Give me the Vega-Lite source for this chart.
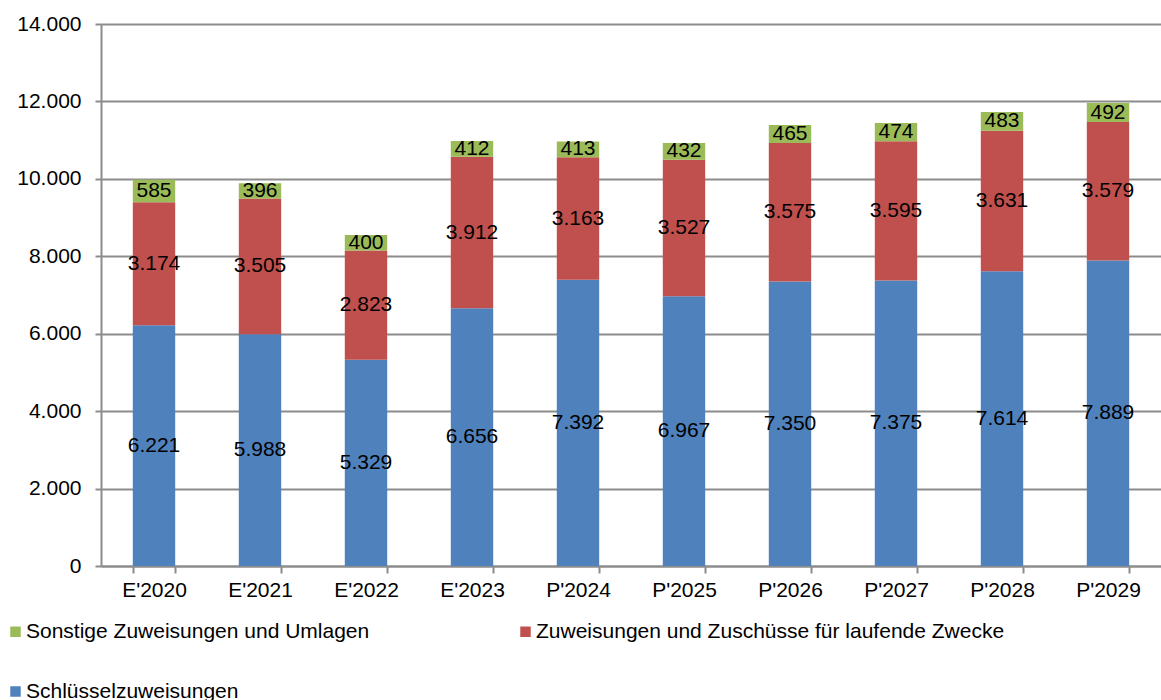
{
  "$schema": "https://vega.github.io/schema/vega-lite/v6.json",
  "autosize": "none",
  "width": 1060,
  "height": 542,
  "padding": {"left": 101, "top": 24, "right": 0, "bottom": 134},
  "background": "white",
  "config": {
    "locale": {"number": {"decimal": ",", "thousands": ".", "grouping": [3], "currency": ["", " €"]}},
    "font": "Liberation Sans",
    "view": {"stroke": null},
    "axis": {"labelFont": "Liberation Sans", "labelFontSize": 21, "labelColor": "#000000", "domainColor": "#8c8c8c", "domainWidth": 2, "tickColor": "#8c8c8c", "tickWidth": 2, "gridColor": "#8c8c8c", "gridWidth": 2, "title": null}
  },
  "data": {
    "values": [
      {"jahr": "E'2020", "kat": "Schlüsselzuweisungen", "k": 1, "v": 6221},
      {"jahr": "E'2020", "kat": "Zuweisungen und Zuschüsse für laufende Zwecke", "k": 2, "v": 3174},
      {"jahr": "E'2020", "kat": "Sonstige Zuweisungen und Umlagen", "k": 3, "v": 585},
      {"jahr": "E'2021", "kat": "Schlüsselzuweisungen", "k": 1, "v": 5988},
      {"jahr": "E'2021", "kat": "Zuweisungen und Zuschüsse für laufende Zwecke", "k": 2, "v": 3505},
      {"jahr": "E'2021", "kat": "Sonstige Zuweisungen und Umlagen", "k": 3, "v": 396},
      {"jahr": "E'2022", "kat": "Schlüsselzuweisungen", "k": 1, "v": 5329},
      {"jahr": "E'2022", "kat": "Zuweisungen und Zuschüsse für laufende Zwecke", "k": 2, "v": 2823},
      {"jahr": "E'2022", "kat": "Sonstige Zuweisungen und Umlagen", "k": 3, "v": 400},
      {"jahr": "E'2023", "kat": "Schlüsselzuweisungen", "k": 1, "v": 6656},
      {"jahr": "E'2023", "kat": "Zuweisungen und Zuschüsse für laufende Zwecke", "k": 2, "v": 3912},
      {"jahr": "E'2023", "kat": "Sonstige Zuweisungen und Umlagen", "k": 3, "v": 412},
      {"jahr": "P'2024", "kat": "Schlüsselzuweisungen", "k": 1, "v": 7392},
      {"jahr": "P'2024", "kat": "Zuweisungen und Zuschüsse für laufende Zwecke", "k": 2, "v": 3163},
      {"jahr": "P'2024", "kat": "Sonstige Zuweisungen und Umlagen", "k": 3, "v": 413},
      {"jahr": "P'2025", "kat": "Schlüsselzuweisungen", "k": 1, "v": 6967},
      {"jahr": "P'2025", "kat": "Zuweisungen und Zuschüsse für laufende Zwecke", "k": 2, "v": 3527},
      {"jahr": "P'2025", "kat": "Sonstige Zuweisungen und Umlagen", "k": 3, "v": 432},
      {"jahr": "P'2026", "kat": "Schlüsselzuweisungen", "k": 1, "v": 7350},
      {"jahr": "P'2026", "kat": "Zuweisungen und Zuschüsse für laufende Zwecke", "k": 2, "v": 3575},
      {"jahr": "P'2026", "kat": "Sonstige Zuweisungen und Umlagen", "k": 3, "v": 465},
      {"jahr": "P'2027", "kat": "Schlüsselzuweisungen", "k": 1, "v": 7375},
      {"jahr": "P'2027", "kat": "Zuweisungen und Zuschüsse für laufende Zwecke", "k": 2, "v": 3595},
      {"jahr": "P'2027", "kat": "Sonstige Zuweisungen und Umlagen", "k": 3, "v": 474},
      {"jahr": "P'2028", "kat": "Schlüsselzuweisungen", "k": 1, "v": 7614},
      {"jahr": "P'2028", "kat": "Zuweisungen und Zuschüsse für laufende Zwecke", "k": 2, "v": 3631},
      {"jahr": "P'2028", "kat": "Sonstige Zuweisungen und Umlagen", "k": 3, "v": 483},
      {"jahr": "P'2029", "kat": "Schlüsselzuweisungen", "k": 1, "v": 7889},
      {"jahr": "P'2029", "kat": "Zuweisungen und Zuschüsse für laufende Zwecke", "k": 2, "v": 3579},
      {"jahr": "P'2029", "kat": "Sonstige Zuweisungen und Umlagen", "k": 3, "v": 492}
    ]
  },
  "encoding": {
    "x": {
      "field": "jahr", "type": "nominal", "sort": null,
      "scale": {"paddingInner": 0.6, "paddingOuter": 0.3},
      "axis": {"labelAngle": 0, "tickBand": "extent", "tickSize": 7, "labelPadding": 6, "grid": false}
    }
  },
  "layer": [
    {
      "mark": {"type": "bar"},
      "encoding": {
        "y": {
          "field": "v", "type": "quantitative", "stack": "zero",
          "scale": {"domain": [0, 14000], "nice": false},
          "axis": {"values": [0, 2000, 4000, 6000, 8000, 10000, 12000, 14000], "format": ",d", "tickSize": 6, "labelPadding": 14, "grid": true}
        },
        "order": {"field": "k", "type": "quantitative"},
        "color": {
          "field": "kat", "type": "nominal",
          "scale": {
            "domain": ["Sonstige Zuweisungen und Umlagen", "Zuweisungen und Zuschüsse für laufende Zwecke", "Schlüsselzuweisungen"],
            "range": ["#9BBB59", "#C0504D", "#4F81BD"]
          },
          "legend": {
            "title": null, "orient": "none", "legendX": -96, "legendY": 597,
            "direction": "horizontal", "columns": 2, "columnPadding": 145, "rowPadding": 38,
            "symbolType": "square", "symbolSize": 110, "symbolStrokeWidth": 0,
            "labelFontSize": 21, "labelFont": "Liberation Sans", "labelColor": "#000000", "labelOffset": 0, "labelLimit": 700
          }
        }
      }
    },
    {
      "mark": {"type": "text", "fontSize": 21, "font": "Liberation Sans", "color": "#000000", "baseline": "middle"},
      "encoding": {
        "y": {"field": "v", "type": "quantitative", "stack": "zero", "bandPosition": 0.5},
        "order": {"field": "k", "type": "quantitative"},
        "detail": {"field": "kat"},
        "text": {"field": "v", "type": "quantitative", "format": ",d"}
      }
    }
  ]
}
